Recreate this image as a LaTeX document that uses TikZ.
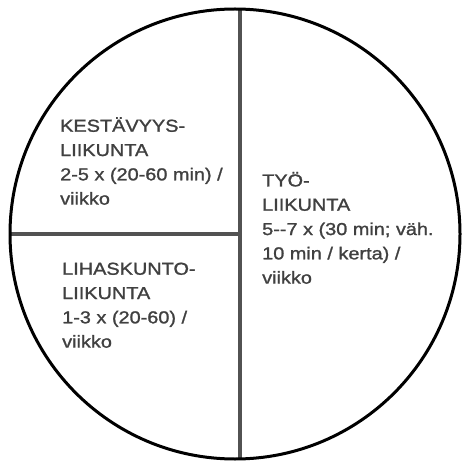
\documentclass[tikz,border=0pt]{standalone}
\usepackage{fontspec}
\setmainfont[FakeStretch=1.15,FakeBold=1.3]{Liberation Sans}
\begin{document}
\begin{tikzpicture}[x=1pt,y=-1pt,
  sector/.style={draw=black!68,line width=3.4pt},
  lbl/.style={anchor=south west,inner sep=0pt,align=left,text=black!75,
    font=\fontsize{17.3}{24.3}\selectfont}]
  \useasboundingbox (0,0) rectangle (462,462);
  \coordinate (o) at (235,234);
  \coordinate (top) at (240,9.1);
  \coordinate (bot) at (240,458.9);
  \coordinate (west) at (10,234);
  \coordinate (mid) at (240,234);
  \draw[sector] (top)--(bot);
  \draw[sector] (west)--(mid);
  \draw[line width=3pt] (o) circle[radius=225pt];
  \node[lbl] (kest) at (60,205) {KESTÄVYYS-\\LIIKUNTA\\2-5 x (20-60 min) /\\viikko};
  \node[lbl] (lihas) at (62,348) {LIHASKUNTO-\\LIIKUNTA\\1-3 x (20-60) /\\viikko};
  \node[lbl] (tyo) at (262,284) {TYÖ-\\LIIKUNTA\\5-\kern0pt-7 x (30 min; väh.\\10 min / kerta) /\\viikko};
\end{tikzpicture}
\end{document}
